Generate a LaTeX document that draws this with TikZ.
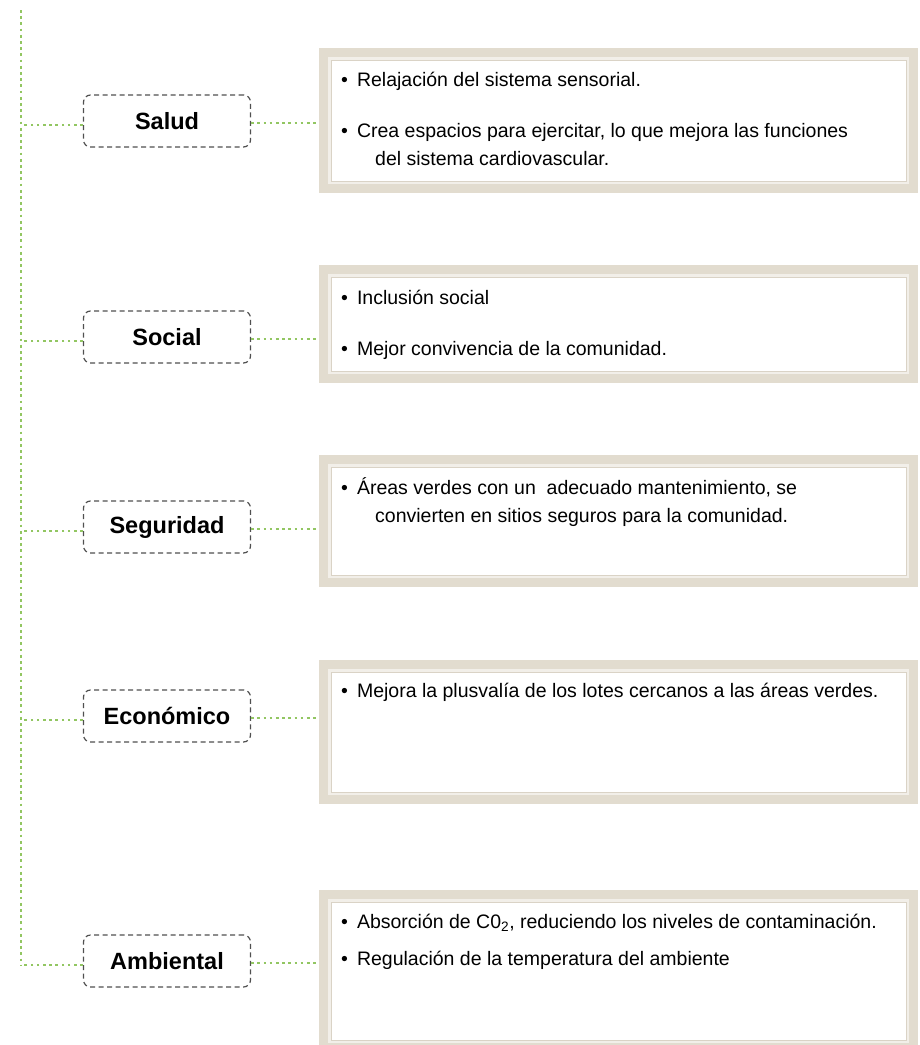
\documentclass[tikz,border=0pt]{standalone}
\usepackage{fontspec}
\setmainfont{Liberation Sans}
\definecolor{verde}{RGB}{146,198,98}
\definecolor{marcofuera}{RGB}{226,220,207}
\definecolor{marcoclaro}{RGB}{242,239,233}
\definecolor{marcolinea}{RGB}{218,211,198}
\definecolor{guiones}{RGB}{80,80,80}
\tikzset{
	punteado/.style={draw=verde, line width=2.7bp, dash pattern=on 2.7bp off 3.5bp},
	etiqueta/.style={draw=guiones, line width=1.2bp, dash pattern=on 5bp off 3.5bp, rounded corners=7bp, fill=white,
		minimum width=167bp, minimum height=52bp, inner sep=0pt, font=\fontsize{23.5bp}{28bp}\selectfont\bfseries},
	marco/.style={draw=marcolinea, line width=1bp, fill=white, anchor=north west, outer sep=12bp, inner sep=0pt,
		minimum width=575bp, preaction={draw=marcofuera, line width=24bp}, preaction={draw=marcoclaro, line width=6bp}},
	texto/.style={anchor=mid west, inner sep=0pt, font=\fontsize{19.5bp}{24bp}\selectfont},
}
\newcommand{\punto}{\textbullet\hspace{9bp}}
\begin{document}
\begin{tikzpicture}[x=1bp, y=-1bp]
		\useasboundingbox (0,0) rectangle (920,1045);
		\node[marco, minimum height=121bp] (salud-m) at (319,48) {};
		\node[marco, minimum height=94bp] (social-m) at (319,265) {};
		\node[marco, minimum height=108bp] (seguridad-m) at (319,455) {};
		\node[marco, minimum height=120bp] (economico-m) at (319,660) {};
		\node[marco, minimum height=138bp] (ambiental-m) at (319,890) {};

		\node[etiqueta] (salud) at (167,121) {Salud};
		\node[etiqueta] (social) at (167,337) {Social};
		\node[etiqueta] (seguridad) at (167,527) {Seguridad};
		\node[etiqueta] (economico) at (167,716) {Económico};
		\node[etiqueta] (ambiental) at (167,961) {Ambiental};

		\coordinate (tope) at (21,10);
		\draw[punteado] (tope) -- ([yshift=-4bp]tope |- ambiental.west);
		\foreach \n in {salud,social,seguridad,economico,ambiental}{
			\draw[punteado] ([yshift=-4bp]\n.west) -- ([yshift=-4bp]\n.west -| tope);
			\draw[punteado] ([yshift=-2bp]\n.east) -- ([yshift=-2bp]\n.east -| \n-m.west);
		}

		\node[texto] (salud1) at (341,84) {\punto Relajación del sistema sensorial.};
		\node[texto] (salud2) at (341,135) {\punto Crea espacios para ejercitar, lo que mejora las funciones};
		\node[texto] (salud3) at (375,163) {del sistema cardiovascular.};
		\node[texto] (social1) at (341,302) {\punto Inclusión social};
		\node[texto] (social2) at (341,353) {\punto Mejor convivencia de la comunidad.};
		\node[texto] (seguridad1) at (341,492) {\punto Áreas verdes con un\ \ adecuado mantenimiento, se};
		\node[texto] (seguridad2) at (375,520) {convierten en sitios seguros para la comunidad.};
		\node[texto] (economico1) at (341,695) {\punto Mejora la plusvalía de los lotes cercanos a las áreas verdes.};
		\node[texto] (ambiental1) at (341,926) {\punto Absorción de C0\textsubscript{2}, reduciendo los niveles de contaminación.};
		\node[texto] (ambiental2) at (341,963) {\punto Regulación de la temperatura del ambiente};
	\end{tikzpicture}
\end{document}
